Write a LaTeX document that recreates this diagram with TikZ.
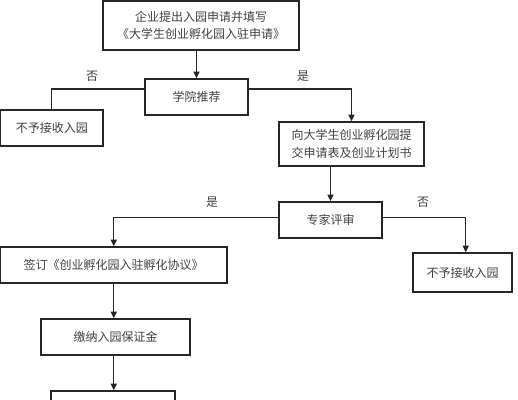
\documentclass[tikz,border=0pt]{standalone}
\usepackage{fontspec}
\setmainfont{Noto Sans CJK SC}
\usetikzlibrary{arrows.meta}
\tikzset{
  box/.style={draw=black!85, line width=1pt, align=center, font=\fontsize{9}{13}\selectfont, text=black!75, inner sep=0pt},
  conn/.style={draw=black!85, line width=1pt},
  arr/.style={conn, -{Triangle[length=5pt,width=4.5pt]}},
  lbl/.style={font=\fontsize{9}{11}\selectfont, text=black!75}
}
\begin{document}
\begin{tikzpicture}[x=0.75pt,y=-0.75pt]
\useasboundingbox (0,0) rectangle (518,400);
\begin{scope}
\clip (0,0) rectangle (518,400);
\node[box, minimum width=147pt, minimum height=36.75pt] (b1) at (201,25.5) {企业提出入园申请并填写\\《大学生创业孵化园入驻申请》};
\node[box, minimum width=77.25pt, minimum height=27pt] (b2) at (196.5,97) {学院推荐};
\node[box, minimum width=76.9pt, minimum height=27pt] (b3) at (51.75,128) {不予接收入园};
\node[box, minimum width=108.75pt, minimum height=33pt] (b4) at (351.5,144) {向大学生创业孵化园提\\交申请表及创业计划书};
\node[box, minimum width=77.25pt, minimum height=27pt] (b5) at (330.5,220) {专家评审};
\node[box, minimum width=169.9pt, minimum height=27pt] (b6) at (113.75,265) {签订《创业孵化园入驻孵化协议》};
\node[box, minimum width=74.25pt, minimum height=29.25pt] (b7) at (462.5,272.5) {不予接收入园};
\node[box, minimum width=111.75pt, minimum height=27pt] (b8) at (115.5,337) {缴纳入园保证金};
\node[box, minimum width=93pt, minimum height=27pt] (b9) at (113,409) {};
\end{scope}
\draw[arr] (b2.north |- b1.south) -- (b2.north);
\draw[conn] ([yshift=6pt]b2.west) -| (b3.north);
\draw[arr] ([yshift=6pt]b2.east) -| (b4.north);
\draw[arr] (b4.south -| b5.north) -- (b5.north);
\draw[arr] ([yshift=1.7pt]b5.west) -| (b6.north);
\draw[arr] ([yshift=1.7pt]b5.east) -| ([xshift=2.4pt]b7.north);
\draw[arr] (b6.south) -- (b6.south |- b8.north);
\draw[arr] (b6.south |- b8.south) -- (b6.south |- b9.north);
\node[lbl] (l1) at (92,76) {否};
\node[lbl] (l2) at (303,76) {是};
\node[lbl] (l3) at (212,202) {是};
\node[lbl] (l4) at (423,202) {否};
\end{tikzpicture}
\end{document}
